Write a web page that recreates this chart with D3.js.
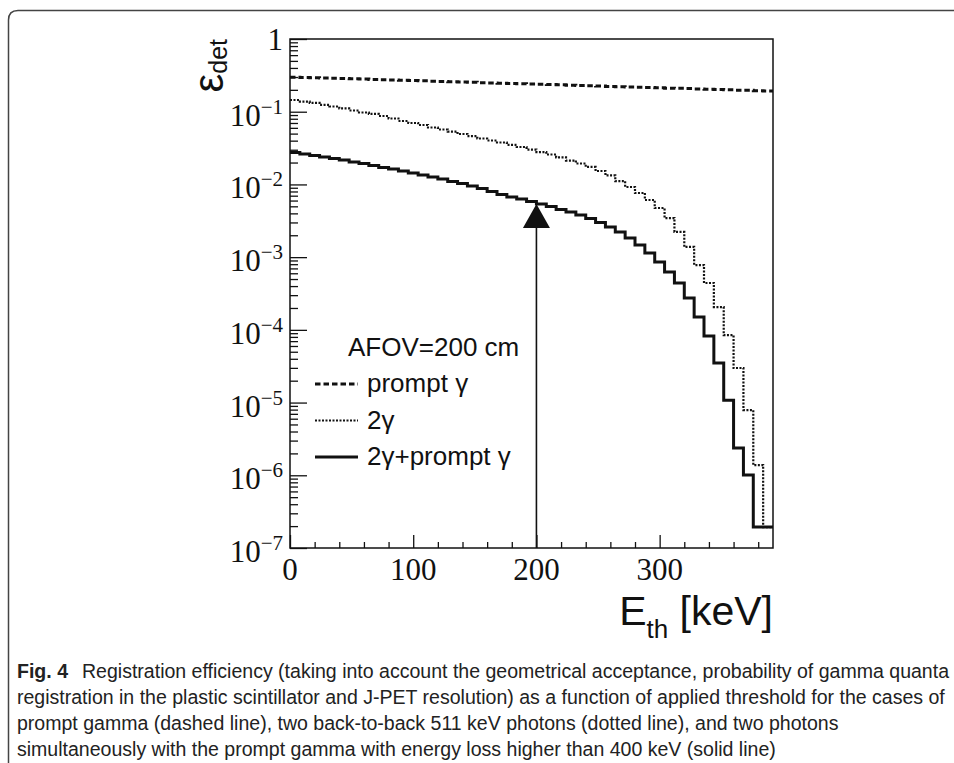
<!DOCTYPE html>
<html>
<head>
<meta charset="utf-8">
<script src="https://cdn.jsdelivr.net/npm/d3@7"></script>
<style>
  body { margin: 0; background: #fff; }
  svg { display: block; }
</style>
</head>
<body>
<svg id="chart" width="954" height="763"></svg>
<script>
// histogram binning (keV)
const binWidth = 8;

// registration efficiency per threshold bin
const promptGamma = [0.299, 0.296, 0.294, 0.291, 0.288, 0.286, 0.283, 0.281, 0.278, 0.275,
    0.273, 0.270, 0.268, 0.266, 0.263, 0.261, 0.258, 0.256, 0.254, 0.251,
    0.249, 0.247, 0.245, 0.242, 0.240, 0.238, 0.236, 0.234, 0.232, 0.230,
    0.227, 0.225, 0.223, 0.221, 0.219, 0.217, 0.215, 0.213, 0.211, 0.210,
    0.208, 0.206, 0.204, 0.202, 0.200, 0.198, 0.197, 0.195, 0.193];

const twoGamma = [0.145, 0.138, 0.132, 0.124, 0.118, 0.111, 0.104, 0.0976, 0.0931, 0.0873,
    0.0807, 0.0745, 0.0700, 0.0657, 0.0607, 0.0569, 0.0534, 0.0494, 0.0463, 0.0428,
    0.0402, 0.0377, 0.0349, 0.0327, 0.0302, 0.0279, 0.0258, 0.0235, 0.0213, 0.0194,
    0.0174, 0.0153, 0.0133, 0.0111, 0.00922, 0.00762, 0.00611, 0.00474, 0.00345, 0.00222,
    0.00138, 7.79e-4, 4.41e-4, 2.06e-4, 8.49e-5, 2.99e-5, 7.89e-6, 1.38e-6, 1.94e-7];

const twoGammaPrompt = [0.0275, 0.0262, 0.0250, 0.0238, 0.0227, 0.0217, 0.0203, 0.0194, 0.0182, 0.0171,
    0.0163, 0.0153, 0.0144, 0.0135, 0.0127, 0.0119, 0.0110, 0.0103, 0.00951, 0.00879,
    0.00800, 0.00727, 0.00671, 0.00630, 0.00582, 0.00538, 0.00497, 0.00452, 0.00418, 0.00380,
    0.00340, 0.00299, 0.00260, 0.00222, 0.00183, 0.00147, 0.00114, 8.57e-4, 6.25e-4, 4.41e-4,
    2.74e-4, 1.50e-4, 8.22e-5, 3.50e-5, 1.08e-5, 2.37e-6, 1.01e-6, 1.94e-7, 1.94e-7];

const xMajorTicks = [0, 100, 200, 300];
const xMinorStep = 20;
const yDecades = [-7, -6, -5, -4, -3, -2, -1, 0];

const legendTitle = 'AFOV=200 cm';
const legendLabels = ['prompt \u03b3', '2\u03b3', '2\u03b3+prompt \u03b3'];
const arrowEnergy = 200;

const captionLead = 'Fig. 4';
const captionLines = [
    'Registration efficiency (taking into account the geometrical acceptance, probability of gamma quanta',
    'registration in the plastic scintillator and J-PET resolution) as a function of applied threshold for the cases of',
    'prompt gamma (dashed line), two back-to-back 511 keV photons (dotted line), and two photons',
    'simultaneously with the prompt gamma with energy loss higher than 400 keV (solid line)'
];

// ---------------------------------------------------------------
const svg = d3.select('#chart');
const ink = '#111';
const serif = '"Liberation Serif", "Times New Roman", serif';
const sans = '"Liberation Sans", Arial, Helvetica, sans-serif';

const plot = { left: 290, right: 773, top: 39, bottom: 548 };

const x = d3.scaleLinear()
    .domain([0, binWidth * promptGamma.length])
    .range([plot.left, plot.right]);

const y = d3.scaleLog()
    .domain([1e-7, 1])
    .range([plot.bottom, plot.top]);

// figure border (rounded top-left corner)
svg.append('path')
    .attr('d', 'M8.5,763 V20 Q8.5,10.5 18,10.5 H954')
    .attr('fill', 'none')
    .attr('stroke', '#444')
    .attr('stroke-width', 1.5);

// y axis ticks (inside, pointing right)
const yAll = y.ticks();
const isDecade = v => Math.abs(Math.log10(v) - Math.round(Math.log10(v))) < 1e-9;

const yMinor = svg.append('g')
    .attr('transform', `translate(${plot.left},0)`)
    .call(d3.axisRight(y).tickValues(yAll.filter(v => !isDecade(v))).tickSize(8).tickFormat(''));
const yMajor = svg.append('g')
    .attr('transform', `translate(${plot.left},0)`)
    .call(d3.axisRight(y).tickValues(yDecades.map(e => Math.pow(10, e))).tickSize(17).tickFormat(''));

// x axis ticks (inside, pointing up)
const xEnd = x.domain()[1];
const xMinor = svg.append('g')
    .attr('transform', `translate(0,${plot.bottom})`)
    .call(d3.axisTop(x)
        .tickValues(d3.range(0, xEnd, xMinorStep).filter(v => !xMajorTicks.includes(v)))
        .tickSize(6).tickFormat(''));
const xMajor = svg.append('g')
    .attr('transform', `translate(0,${plot.bottom})`)
    .call(d3.axisTop(x).tickValues(xMajorTicks).tickSize(13).tickFormat(''));

[yMinor, yMajor, xMinor, xMajor].forEach(g => {
    g.select('.domain').remove();
    g.selectAll('line').attr('stroke', ink).attr('stroke-width', 1.3);
});

// plot frame
svg.append('rect')
    .attr('x', plot.left)
    .attr('y', plot.top)
    .attr('width', plot.right - plot.left)
    .attr('height', plot.bottom - plot.top)
    .attr('fill', 'none')
    .attr('stroke', ink)
    .attr('stroke-width', 1.5);

// y tick labels: 1, 10^-1 ... 10^-7
yDecades.forEach(e => {
    const ty = y(Math.pow(10, e));
    const t = svg.append('text')
        .attr('x', 283)
        .attr('text-anchor', 'end')
        .attr('font-family', serif)
        .attr('fill', ink);
    if (e === 0) {
        t.attr('y', ty + 11).attr('font-size', 31).text('1');
    } else {
        t.attr('y', ty + 14);
        t.append('tspan').attr('font-size', 31).text('10');
        t.append('tspan').attr('font-size', 21).attr('dy', -12).text('\u2212' + Math.abs(e));
    }
});

// x tick labels
svg.selectAll('.xlab')
    .data(xMajorTicks)
    .join('text')
    .attr('class', 'xlab')
    .attr('x', d => x(d))
    .attr('y', 580)
    .attr('text-anchor', 'middle')
    .attr('font-family', serif)
    .attr('font-size', 31)
    .attr('fill', ink)
    .text(d => d);

// histograms
const series = [
    { values: promptGamma, dash: '5.5,3', width: 3 },
    { values: twoGamma, dash: '2,1.5', width: 2.2 },
    { values: twoGammaPrompt, dash: null, width: 3 }
];

const stepLine = d3.line()
    .x(d => x(d[0]))
    .y(d => y(d[1]))
    .curve(d3.curveStepAfter);

series.forEach(s => {
    const pts = s.values.map((v, i) => [i * binWidth, v]);
    pts.push([s.values.length * binWidth, s.values[s.values.length - 1]]);
    svg.append('path')
        .attr('d', stepLine(pts))
        .attr('fill', 'none')
        .attr('stroke', ink)
        .attr('stroke-width', s.width)
        .attr('stroke-dasharray', s.dash);
});

// arrow at the 200 keV threshold
const tipY = y(twoGammaPrompt[arrowEnergy / binWidth]);
const ax = x(arrowEnergy);
svg.append('line')
    .attr('x1', ax).attr('x2', ax)
    .attr('y1', plot.bottom).attr('y2', tipY + 10)
    .attr('stroke', ink)
    .attr('stroke-width', 1.6);
svg.append('path')
    .attr('d', `M${ax},${tipY} L${ax - 13.5},${tipY + 24} L${ax + 13.5},${tipY + 24} Z`)
    .attr('fill', ink);

// legend
svg.append('text')
    .attr('x', 348)
    .attr('y', 356)
    .attr('font-family', sans)
    .attr('font-size', 26)
    .attr('fill', ink)
    .text(legendTitle);

legendLabels.forEach((label, i) => {
    const ly = 384 + i * 36.5;
    svg.append('line')
        .attr('x1', 315).attr('x2', 358)
        .attr('y1', ly).attr('y2', ly)
        .attr('stroke', ink)
        .attr('stroke-width', series[i].width)
        .attr('stroke-dasharray', series[i].dash);
    svg.append('text')
        .attr('x', 367)
        .attr('y', ly + 8)
        .attr('font-family', sans)
        .attr('font-size', 26)
        .attr('fill', ink)
        .text(label);
});

// axis titles
const xTitle = svg.append('text')
    .attr('x', plot.right)
    .attr('y', 625)
    .attr('text-anchor', 'end')
    .attr('font-family', sans)
    .attr('fill', ink);
xTitle.append('tspan').attr('font-size', 41).text('E');
xTitle.append('tspan').attr('font-size', 26).attr('dy', 13).text('th');
xTitle.append('tspan').attr('font-size', 41).attr('dy', -13).text(' [keV]');

const yTitle = svg.append('text')
    .attr('transform', `translate(223,${plot.top}) rotate(-90)`)
    .attr('text-anchor', 'end')
    .attr('font-family', sans)
    .attr('fill', ink);
yTitle.append('tspan').attr('font-size', 42).text('\u03b5');
yTitle.append('tspan').attr('font-size', 25).attr('dy', 4).text('det');

// caption, squeezed horizontally to look like a condensed face
const capBase = [678, 704, 730, 756];
const cap = svg.append('g');
cap.append('text')
    .attr('y', capBase[0])
    .attr('font-family', sans)
    .attr('font-weight', 'bold')
    .attr('font-size', 21)
    .attr('fill', '#222')
    .text(captionLead);

const capTexts = captionLines.map((line, i) => cap.append('text')
    .attr('y', capBase[i])
    .attr('font-family', sans)
    .attr('font-size', 21)
    .attr('fill', '#222')
    .text(line));

// squeeze factor so the first line runs from x=82 to the figure edge
const sx = (950 - 82) / capTexts[0].node().getComputedTextLength();
cap.selectAll('text').attr('transform', `scale(${sx},1)`);
capTexts.forEach((t, i) => t.attr('x', (i === 0 ? 82 : 17) / sx));
cap.select('text').attr('x', 17 / sx);
</script>
</body>
</html>
